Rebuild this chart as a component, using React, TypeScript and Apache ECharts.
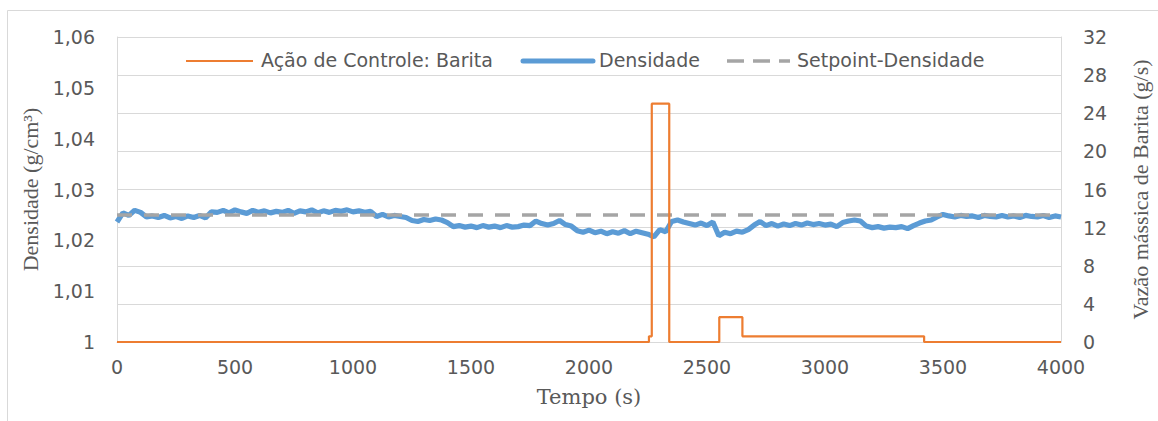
import React, { useEffect, useRef } from "react";
import * as echarts from "echarts";

// Densidade (g/cm3), sampled every 25 s from 0 to 4000 s
const densidadeStep = 25;
const densidade = [
  1.0236, 1.0254, 1.0249, 1.0259, 1.0255, 1.0246, 1.0248, 1.0245, 1.0249, 1.0244,
  1.0247, 1.0243, 1.0248, 1.0245, 1.0249, 1.0244, 1.0256, 1.0255, 1.0259, 1.0254,
  1.026, 1.0256, 1.0253, 1.0259, 1.0255, 1.0258, 1.0254, 1.0257, 1.0255, 1.0259,
  1.0253, 1.0258, 1.0256, 1.026, 1.0254, 1.0258, 1.0255, 1.0259, 1.0257, 1.026,
  1.0256, 1.0258, 1.0255, 1.0257, 1.0247, 1.0251, 1.0246, 1.0249, 1.0247, 1.0245,
  1.0239, 1.0237, 1.0241, 1.0239, 1.0242, 1.024, 1.0235, 1.0227, 1.0229, 1.0226,
  1.0228, 1.0225, 1.0229, 1.0226, 1.0228, 1.0225, 1.0229, 1.0226, 1.0227, 1.023,
  1.0229, 1.0238, 1.0233, 1.023, 1.0233, 1.0239, 1.0231, 1.0228, 1.0219, 1.0216,
  1.022, 1.0215, 1.0218, 1.0213, 1.0217, 1.0214, 1.0219, 1.0213, 1.0218, 1.0215,
  1.0212, 1.0207, 1.0221, 1.0217, 1.0237, 1.024, 1.0236, 1.0233, 1.023, 1.0234,
  1.0229, 1.0236, 1.0209, 1.0216, 1.0213, 1.0218, 1.0216, 1.0221, 1.023, 1.0237,
  1.0229, 1.0233, 1.0228, 1.0232, 1.0229, 1.0233, 1.023, 1.0234, 1.0231, 1.0233,
  1.023, 1.0232, 1.0227, 1.0235, 1.0238, 1.024, 1.0238, 1.0228, 1.0225, 1.0227,
  1.0224, 1.0226, 1.0225, 1.0227, 1.0223, 1.0229, 1.0234, 1.0238, 1.024, 1.0246,
  1.0251, 1.0248, 1.0246, 1.0249, 1.0247, 1.0248, 1.0245, 1.0249, 1.0247, 1.0246,
  1.0249, 1.0246, 1.0248, 1.0245, 1.0249, 1.0247, 1.0246, 1.0249, 1.0245, 1.0248,
  1.0246,
];

// Ação de Controle: Barita (g/s), step profile
const baritaTime = [0, 2254, 2254, 2266, 2266, 2340, 2340, 2552, 2552, 2650, 2650, 3420, 3420, 4000];
const baritaValue = [0, 0, 0.6, 0.6, 25, 25, 0, 0, 2.6, 2.6, 0.6, 0.6, 0, 0];

// Setpoint-Densidade
const setpointTime = [0, 4000];
const setpointValue = [1.025, 1.025];

const seriesNames = ["Ação de Controle: Barita", "Densidade", "Setpoint-Densidade"];

const TEXT = "#595959";
const GRID = "#D9D9D9";
const SANS = "DejaVu Sans";
const ORANGE = "#ED7D31";
const BLUE = "#5B9BD5";
const GRAY = "#A5A5A5";

function legendItem(x1: number, x2: number, textX: number, label: string, style: any) {
  const y = 61;
  return [
    {
      type: "line",
      silent: true,
      shape: { x1, y1: y, x2, y2: y },
      style: { fill: "none", ...style },
    },
    {
      type: "text",
      silent: true,
      x: textX,
      y: 60,
      style: {
        text: label,
        fontSize: 19,
        fontFamily: SANS,
        fill: TEXT,
        verticalAlign: "middle",
        align: "left",
      },
    },
  ];
}

export default function App() {
  const ref = useRef<HTMLDivElement>(null);
  useEffect(() => {
    if (!ref.current) return;
    const chart = echarts.init(ref.current, undefined, { renderer: "svg" });
    chart.setOption({
      animation: false,
      backgroundColor: "#ffffff",
      graphic: [
        {
          type: "rect",
          silent: true,
          shape: { x: 7.5, y: 10.5, width: 1300, height: 600 },
          style: { fill: "none", stroke: GRID, lineWidth: 1 },
        },
        ...legendItem(186, 253, 261, seriesNames[0], { stroke: ORANGE, lineWidth: 2.2 }),
        ...legendItem(523, 593, 599, seriesNames[1], { stroke: BLUE, lineWidth: 5, lineCap: "round" }),
        ...legendItem(727, 790, 797, seriesNames[2], { stroke: GRAY, lineWidth: 3.5, lineDash: [17, 9] }),
      ],
      grid: {
        left: 117,
        right: 97,
        top: 37,
        bottom: 79,
        containLabel: false,
        outerBoundsMode: "none",
      },
      legend: { show: false, data: seriesNames },
      xAxis: {
        type: "value",
        min: 0,
        max: 4000,
        interval: 500,
        name: "Tempo (s)",
        nameLocation: "middle",
        nameGap: 44,
        nameTextStyle: { color: TEXT, fontFamily: "DejaVu Serif", fontSize: 21 },
        axisLine: { show: true, lineStyle: { color: GRID, width: 1 } },
        axisTick: { show: false },
        splitLine: { show: false },
        axisLabel: {
          color: TEXT,
          fontFamily: SANS,
          fontSize: 19,
          margin: 15,
          formatter: (v: number) => String(v),
        },
      },
      yAxis: [
        {
          type: "value",
          min: 1,
          max: 1.06,
          interval: 0.01,
          position: "left",
          name: "Densidade (g/cm³)",
          nameLocation: "middle",
          nameGap: 72,
          nameTextStyle: { color: TEXT, fontFamily: "Liberation Serif", fontSize: 22 },
          axisLine: { show: true, lineStyle: { color: GRID, width: 1 } },
          axisTick: { show: false },
          splitLine: { show: false },
          axisLabel: {
            color: TEXT,
            fontFamily: SANS,
            fontSize: 19,
            margin: 22,
            formatter: (v: number) => (Math.abs(v - 1) < 1e-9 ? "1" : v.toFixed(2).replace(".", ",")),
          },
        },
        {
          type: "value",
          min: 0,
          max: 32,
          interval: 4,
          position: "right",
          name: "Vazão mássica de Barita (g/s)",
          nameLocation: "middle",
          nameRotate: 90,
          nameGap: 68,
          nameTextStyle: { color: TEXT, fontFamily: "Liberation Serif", fontSize: 22 },
          axisLine: { show: true, lineStyle: { color: GRID, width: 1 } },
          axisTick: { show: false },
          splitLine: { show: true, lineStyle: { color: GRID, width: 1 } },
          axisLabel: { color: TEXT, fontFamily: SANS, fontSize: 19, margin: 22 },
        },
      ],
      series: [
        {
          name: seriesNames[1],
          type: "line",
          yAxisIndex: 0,
          showSymbol: false,
          symbol: "none",
          z: 2,
          data: densidade.map((v, i) => [i * densidadeStep, v]),
          lineStyle: { color: BLUE, width: 5.2 },
          itemStyle: { color: BLUE },
        },
        {
          name: seriesNames[2],
          type: "line",
          yAxisIndex: 0,
          showSymbol: false,
          symbol: "none",
          z: 3,
          data: setpointTime.map((t, i) => [t, setpointValue[i]]),
          lineStyle: { color: GRAY, width: 3.5, type: [15, 12] },
          itemStyle: { color: GRAY },
        },
        {
          name: seriesNames[0],
          type: "line",
          yAxisIndex: 1,
          showSymbol: false,
          symbol: "none",
          z: 4,
          data: baritaTime.map((t, i) => [t, baritaValue[i]]),
          lineStyle: { color: ORANGE, width: 2.2 },
          itemStyle: { color: ORANGE },
        },
      ],
    });
    return () => chart.dispose();
  }, []);
  return (
    <div
      ref={ref}
      style={{ position: "absolute", left: 0, top: 0, width: 1158, height: 421 }}
    />
  );
}
